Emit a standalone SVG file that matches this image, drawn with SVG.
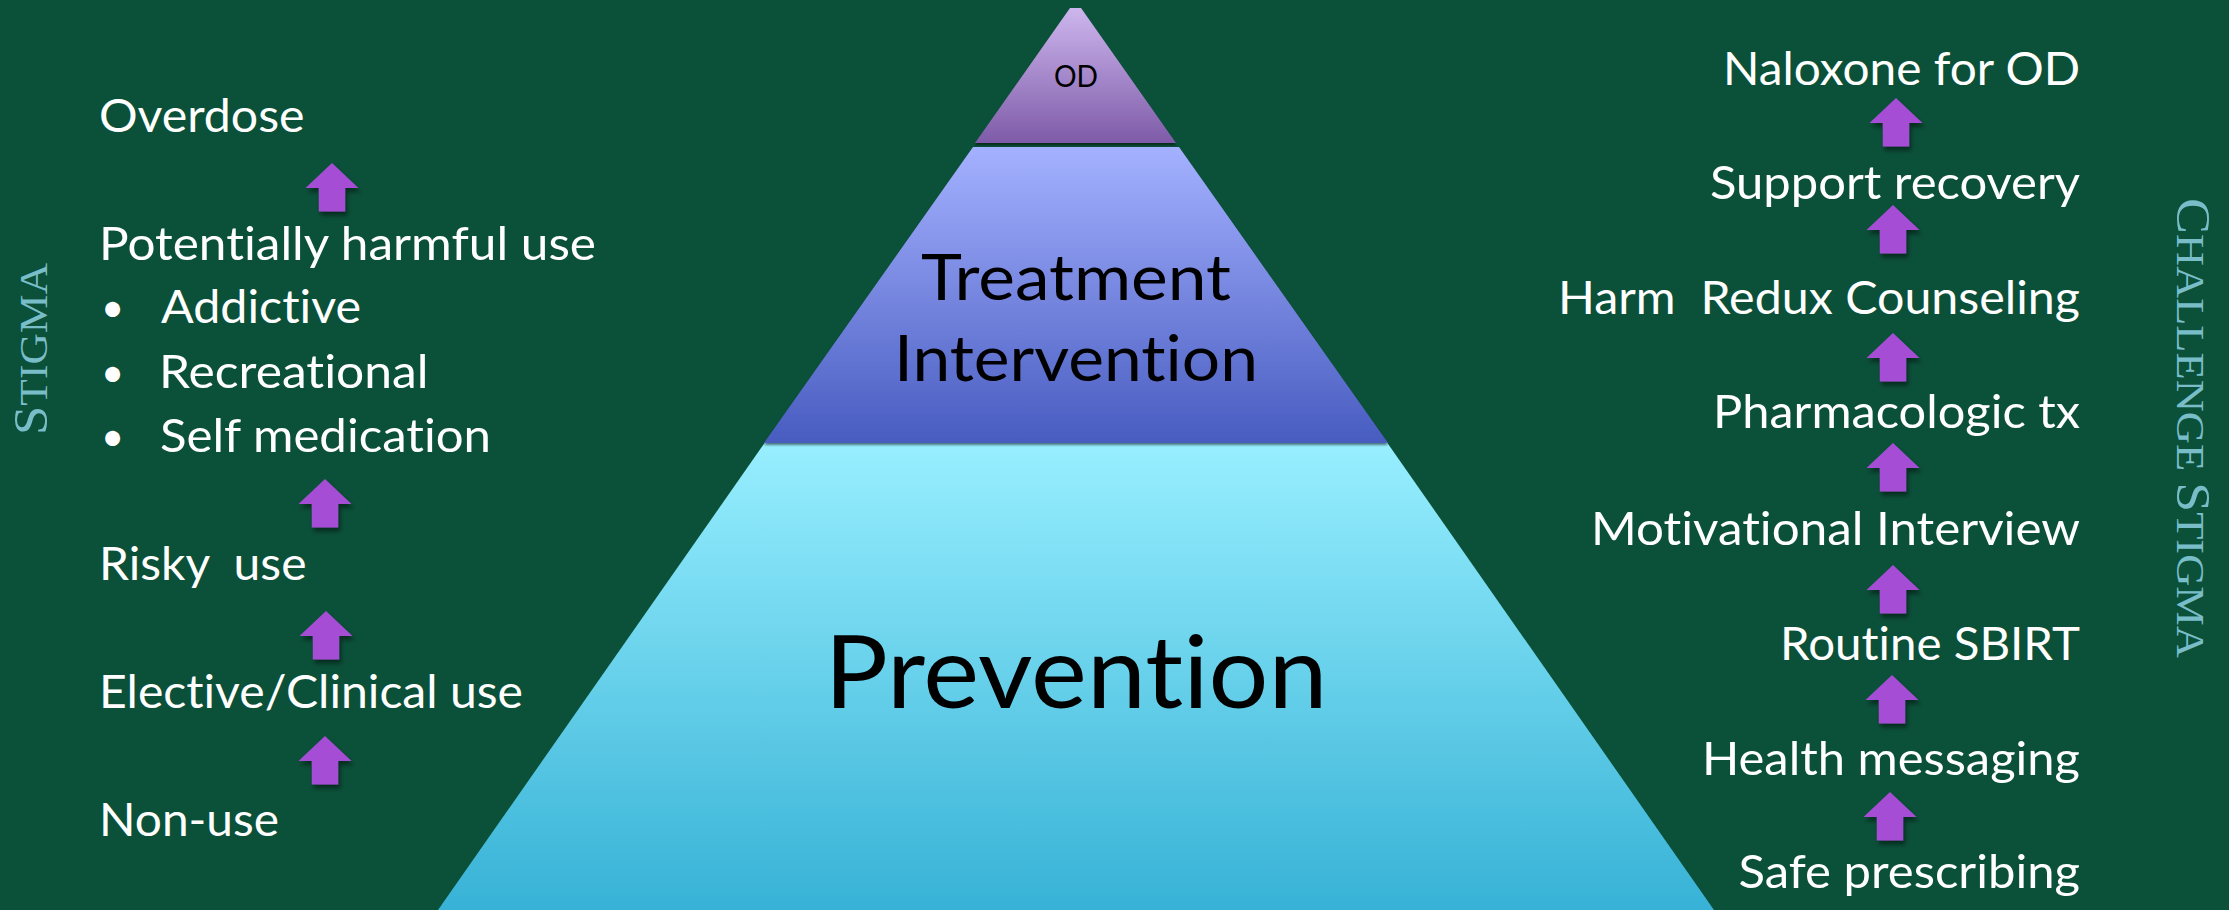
<svg xmlns="http://www.w3.org/2000/svg" xmlns:xlink="http://www.w3.org/1999/xlink" width="2229" height="910" viewBox="0 0 2229 910">
  <defs>
    <linearGradient id="gOD" x1="0" y1="0" x2="0" y2="1">
      <stop offset="0" stop-color="#CDB6EE"/>
      <stop offset="1" stop-color="#7E5BA8"/>
    </linearGradient>
    <linearGradient id="gTx" x1="0" y1="0" x2="0" y2="1">
      <stop offset="0" stop-color="#A4B1FF"/>
      <stop offset="1" stop-color="#485CC0"/>
    </linearGradient>
    <linearGradient id="gPrev" x1="0" y1="0" x2="0" y2="1">
      <stop offset="0" stop-color="#98EFFF"/>
      <stop offset="1" stop-color="#37B2D6"/>
    </linearGradient>
    <filter id="shadow" x="-20%" y="-20%" width="150%" height="150%">
      <feDropShadow dx="2" dy="4" stdDeviation="2" flood-color="#000" flood-opacity="0.45"/>
    </filter>
    <filter id="layerShadow" x="-10%" y="-10%" width="120%" height="130%">
      <feDropShadow dx="0" dy="2" stdDeviation="1" flood-color="#000" flood-opacity="0.5"/>
    </filter>
    <path id="arrow" d="M0,0 L26.5,25 L13.2,25 L13.2,48.5 L-13.2,48.5 L-13.2,25 L-26.5,25 Z"/>
  </defs>
  <style>
    text { font-variant-ligatures: none; font-feature-settings: "liga" 0, "clig" 0; }
    .side { font-family: Lato, "Liberation Sans", sans-serif; font-size: 47.3px; fill: #FFFFFF; }
    .bullet { font-family: Lato, "Liberation Sans", sans-serif; font-size: 40px; fill: #FFFFFF; }
    .right { text-anchor: end; }
    .pyr { font-family: Lato, "Liberation Sans", sans-serif; fill: #000000; text-anchor: middle; }
    .vert { font-family: "Liberation Serif", serif; fill: #79BDC9; }
    .big { font-size: 49px; }
    .small { font-size: 40.5px; }
    .arr { fill: #A64DD6; filter: url(#shadow); }
  </style>

  <rect x="0" y="0" width="2229" height="910" fill="#0B5039"/>

  <!-- Pyramid -->
  <g id="prevention">
    <polygon points="766,441 1386,441 1714,910 438,910" fill="url(#gPrev)"/>
    <text class="pyr" x="1076" y="708" font-size="101.5" textLength="503" lengthAdjust="spacingAndGlyphs">Prevention</text>
  </g>
  <g id="treatment">
    <polygon points="973,147 1179,147 1388,443 764,443" fill="url(#gTx)" filter="url(#layerShadow)"/>
    <text class="pyr" x="1076" y="300" font-size="64.7" textLength="310" lengthAdjust="spacingAndGlyphs">Treatment</text>
    <text class="pyr" x="1076" y="381" font-size="64.7" textLength="364" lengthAdjust="spacingAndGlyphs">Intervention</text>
  </g>
  <g id="od">
    <polygon points="1070,8 1081,8 1176,143 975,143" fill="url(#gOD)" filter="url(#layerShadow)"/>
    <text class="pyr" x="1076" y="87" font-size="30.5" textLength="44" lengthAdjust="spacingAndGlyphs">OD</text>
  </g>

  <!-- Vertical labels -->
  <g id="stigma-label">
    <text class="vert" transform="translate(47,435) rotate(-90)" textLength="172" lengthAdjust="spacingAndGlyphs"><tspan class="big">S</tspan><tspan class="small">TIGMA</tspan></text>
  </g>
  <g id="challenge-label">
    <text class="vert" transform="translate(2177,198) rotate(90)" textLength="460" lengthAdjust="spacingAndGlyphs"><tspan class="big">C</tspan><tspan class="small">HALLENGE </tspan><tspan class="big">S</tspan><tspan class="small">TIGMA</tspan></text>
  </g>

  <!-- Left column nodes -->
  <g id="overdose"><text class="side" x="99" y="132" textLength="205.6" lengthAdjust="spacingAndGlyphs">Overdose</text></g>
  <g id="harmful-use">
    <text class="side" x="99" y="260" textLength="497" lengthAdjust="spacingAndGlyphs">Potentially harmful use</text>
    <text class="bullet" x="101" y="322">•</text>
    <text class="side" x="161" y="323" textLength="200" lengthAdjust="spacingAndGlyphs">Addictive</text>
    <text class="bullet" x="101" y="387">•</text>
    <text class="side" x="159" y="388" textLength="269.5" lengthAdjust="spacingAndGlyphs">Recreational</text>
    <text class="bullet" x="101" y="451">•</text>
    <text class="side" x="160" y="452" textLength="331" lengthAdjust="spacingAndGlyphs">Self medication</text>
  </g>
  <g id="risky-use"><text class="side" x="99" y="580" xml:space="preserve" textLength="207.5" lengthAdjust="spacingAndGlyphs">Risky  use</text></g>
  <g id="elective-use"><text class="side" x="99" y="708" textLength="424" lengthAdjust="spacingAndGlyphs">Elective/Clinical use</text></g>
  <g id="non-use"><text class="side" x="99" y="836" textLength="180" lengthAdjust="spacingAndGlyphs">Non-use</text></g>

  <!-- Right column nodes -->
  <g id="naloxone"><text class="side right" x="2080" y="85" textLength="357" lengthAdjust="spacingAndGlyphs">Naloxone for OD</text></g>
  <g id="support-recovery"><text class="side right" x="2080" y="199" textLength="370" lengthAdjust="spacingAndGlyphs">Support recovery</text></g>
  <g id="harm-redux"><text class="side right" x="2080" y="314" xml:space="preserve" textLength="522" lengthAdjust="spacingAndGlyphs">Harm  Redux Counseling</text></g>
  <g id="pharmacologic"><text class="side right" x="2080" y="428" textLength="367" lengthAdjust="spacingAndGlyphs">Pharmacologic tx</text></g>
  <g id="motivational"><text class="side right" x="2080" y="545" textLength="489" lengthAdjust="spacingAndGlyphs">Motivational Interview</text></g>
  <g id="sbirt"><text class="side right" x="2080" y="660" textLength="300" lengthAdjust="spacingAndGlyphs">Routine SBIRT</text></g>
  <g id="health-messaging"><text class="side right" x="2080" y="775" textLength="378" lengthAdjust="spacingAndGlyphs">Health messaging</text></g>
  <g id="safe-prescribing"><text class="side right" x="2080" y="888" textLength="341.5" lengthAdjust="spacingAndGlyphs">Safe prescribing</text></g>

  <!-- Connectors (block arrows) -->
  <g id="connectors">
    <use href="#arrow" class="arr" x="332" y="163"/>
    <use href="#arrow" class="arr" x="325" y="479"/>
    <use href="#arrow" class="arr" x="326" y="611"/>
    <use href="#arrow" class="arr" x="325" y="736"/>
    <use href="#arrow" class="arr" x="1896" y="98"/>
    <use href="#arrow" class="arr" x="1893" y="205"/>
    <use href="#arrow" class="arr" x="1893" y="333"/>
    <use href="#arrow" class="arr" x="1893" y="443"/>
    <use href="#arrow" class="arr" x="1893" y="565"/>
    <use href="#arrow" class="arr" x="1892" y="675"/>
    <use href="#arrow" class="arr" x="1890" y="792"/>
  </g>
</svg>
